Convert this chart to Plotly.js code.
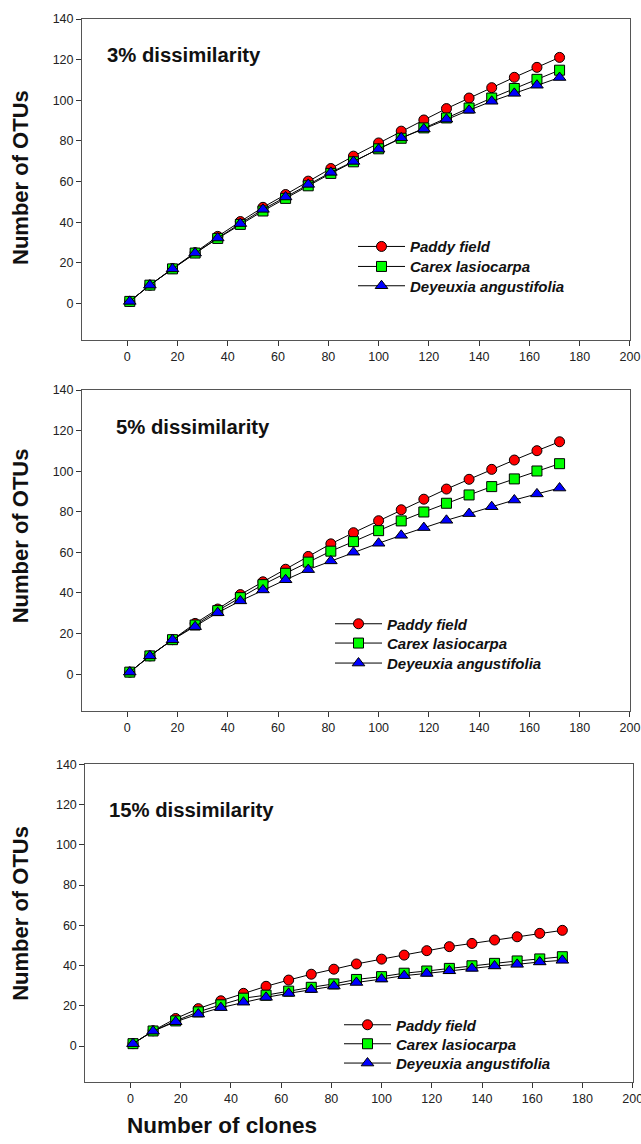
<!DOCTYPE html>
<html>
<head>
<meta charset="utf-8">
<script src="https://cdn.plot.ly/plotly-3.0.1.min.js"></script>
<style>
html,body{margin:0;padding:0;background:#fff;}
#chart{width:641px;height:1144px;}
</style>
</head>
<body>
<div id="chart"></div>
<script>
// ---- data ----
const clones = [1, 9, 18, 27, 36, 45, 54, 63, 72, 81, 90, 100, 109, 118, 127, 136, 145, 154, 163, 172];

const seriesNames = ['Paddy field', 'Carex lasiocarpa', 'Deyeuxia angustifolia'];
const panelLabels = ['3% dissimilarity', '5% dissimilarity', '15% dissimilarity'];

const paddy3    = [1, 9, 17.2, 25, 33, 40.3, 47.3, 53.6, 60.2, 66.4, 72.5, 79, 84.8, 90.3, 95.9, 101.1, 106.2, 111.3, 116.2, 121.1];
const carex3    = [1, 9, 17, 24.8, 32, 38.9, 45.5, 51.7, 57.9, 64, 69.7, 76.1, 81.3, 86.4, 91.3, 96.2, 101.1, 105.8, 110.3, 114.8];
const deyeuxia3 = [1, 9, 17, 24.8, 32.2, 39.3, 46.3, 52.4, 58.6, 64.5, 69.9, 75.9, 81.5, 85.9, 90.7, 95.1, 99.5, 103.4, 107.4, 111.2];

const paddy5    = [1, 9, 17, 25, 32.1, 39.2, 45.5, 51.7, 58, 64.2, 69.7, 75.6, 81, 86.2, 91.2, 96, 100.9, 105.5, 110.1, 114.5];
const carex5    = [1, 9, 17, 24.2, 31.3, 37.7, 44.1, 49.7, 55.2, 60.6, 65.3, 70.7, 75.5, 79.9, 84.2, 88.3, 92.4, 96.2, 100.1, 103.7];
const deyeuxia5 = [1, 9, 16.9, 23.4, 30.3, 36.1, 41.5, 46.5, 51.5, 55.8, 60.1, 64.5, 68.4, 72.2, 75.8, 79.1, 82.5, 85.8, 88.8, 91.7];

const paddy15    = [1.2, 7.6, 13.7, 18.6, 22.5, 26.2, 29.7, 32.8, 35.7, 38.2, 40.8, 43.2, 45.2, 47.4, 49.4, 51, 52.7, 54.3, 56, 57.5];
const carex15    = [1.2, 7.5, 12.5, 17, 20.5, 23.8, 25.3, 27.3, 29.2, 30.9, 33.1, 34.5, 36.2, 37.3, 38.6, 39.9, 41.1, 42.3, 43.3, 44.4];
const deyeuxia15 = [1.2, 7.4, 12.1, 15.9, 19.1, 21.8, 24.2, 26.2, 28.1, 29.8, 31.6, 33.3, 35, 36.1, 37.4, 38.6, 39.8, 40.6, 41.8, 42.6];

const xTicks = [0, 20, 40, 60, 80, 100, 120, 140, 160, 180, 200];
const yTicks = [0, 20, 40, 60, 80, 100, 120, 140];
const yTitle = 'Number of OTUs';
const xTitle = 'Number of clones';

// ---- styling / layout ----
const W = 641, H = 1144;
const panels = [
  {series: [paddy3, carex3, deyeuxia3], x0: 82, x1: 630, top: 19, bottom: 340,
   label: {x: 105, y: 54.7}, ytitleY: 177.5, legX: 353, legY: [246.7, 266.7, 286]},
  {series: [paddy5, carex5, deyeuxia5], x0: 82, x1: 630, top: 390, bottom: 710.7,
   label: {x: 114, y: 426.7}, ytitleY: 535.8, legX: 330, legY: [624, 643.3, 663.3]},
  {series: [paddy15, carex15, deyeuxia15], x0: 85.3, x1: 632.7, top: 764.3, bottom: 1082.3,
   label: {x: 107.3, y: 810}, ytitleY: 913.3, legX: 339, legY: [1025, 1044, 1063.3]}
];
const markerStyles = [
  {symbol: 'circle', color: '#ff0000', size: 10},
  {symbol: 'square', color: '#00ff00', size: 10},
  {symbol: 'triangle-up', color: '#0000ff', size: 11}
];
const FONT = 'Liberation Sans, Arial, Helvetica, sans-serif';

const traces = [];
const layout = {
  width: W, height: H,
  margin: {l: 0, r: 0, t: 0, b: 0},
  paper_bgcolor: '#ffffff', plot_bgcolor: '#ffffff',
  font: {family: FONT, color: '#222'},
  showlegend: true,
  annotations: []
};

panels.forEach((p, pi) => {
  const ax = pi === 0 ? '' : String(pi + 1);
  const xa = 'xaxis' + ax, ya = 'yaxis' + ax;
  layout[xa] = {
    domain: [p.x0 / W, p.x1 / W], range: [-18, 200.02], anchor: 'y' + ax,
    tickmode: 'array', tickvals: xTicks, ticktext: xTicks.map(String),
    ticks: 'outside', ticklen: 5, tickcolor: '#333', tickwidth: 1,
    showline: true, mirror: true, linecolor: '#555', linewidth: 1,
    showgrid: false, zeroline: false, ticklabeloverflow: 'allow',
    tickfont: {family: FONT, size: 12.5, color: '#222'}
  };
  layout[ya] = {
    domain: [1 - p.bottom / H, 1 - p.top / H], range: [-18, 140], anchor: 'x' + ax,
    tickmode: 'array', tickvals: yTicks, ticktext: yTicks.map(String),
    ticks: 'outside', ticklen: 5, tickcolor: '#333', tickwidth: 1,
    showline: true, mirror: true, linecolor: '#555', linewidth: 1,
    showgrid: false, zeroline: false,
    tickfont: {family: FONT, size: 12.5, color: '#222'}
  };
  p.series.forEach((vals, si) => {
    const k = pi * 3 + si + 1;
    const legName = k === 1 ? 'legend' : 'legend' + k;
    const ms = markerStyles[si];
    traces.push({
      type: 'scatter', mode: 'lines+markers',
      x: clones, y: vals, xaxis: 'x' + ax, yaxis: 'y' + ax,
      name: seriesNames[si], legend: legName,
      line: {color: '#000', width: 1},
      marker: {symbol: ms.symbol, color: ms.color, size: ms.size, line: {color: '#000', width: 1}}
    });
    layout[legName] = {
      x: p.legX / W, xanchor: 'left', y: 1 - p.legY[si] / H, yanchor: 'middle',
      bgcolor: 'rgba(0,0,0,0)', borderwidth: 0, itemwidth: 47,
      font: {family: FONT, size: 15, color: '#111', weight: 'bold', style: 'italic'}
    };
  });
  layout.annotations.push({
    xref: 'paper', yref: 'paper', x: p.label.x / W, y: 1 - p.label.y / H,
    xanchor: 'left', yanchor: 'middle', showarrow: false, text: panelLabels[pi],
    font: {family: FONT, size: 20.3, color: '#111', weight: 'bold'}
  });
  layout.annotations.push({
    xref: 'paper', yref: 'paper', x: 20.5 / W, y: 1 - p.ytitleY / H,
    xanchor: 'center', yanchor: 'middle', showarrow: false, textangle: -90, text: yTitle,
    font: {family: FONT, size: 22, color: '#111', weight: 'bold'}
  });
});
layout.annotations.push({
  xref: 'paper', yref: 'paper', x: 222 / W, y: 1 - 1125 / H,
  xanchor: 'center', yanchor: 'middle', showarrow: false, text: xTitle,
  font: {family: FONT, size: 22.5, color: '#111', weight: 'bold'}
});

Plotly.newPlot('chart', traces, layout, {staticPlot: true, displayModeBar: false});
</script>
</body>
</html>
